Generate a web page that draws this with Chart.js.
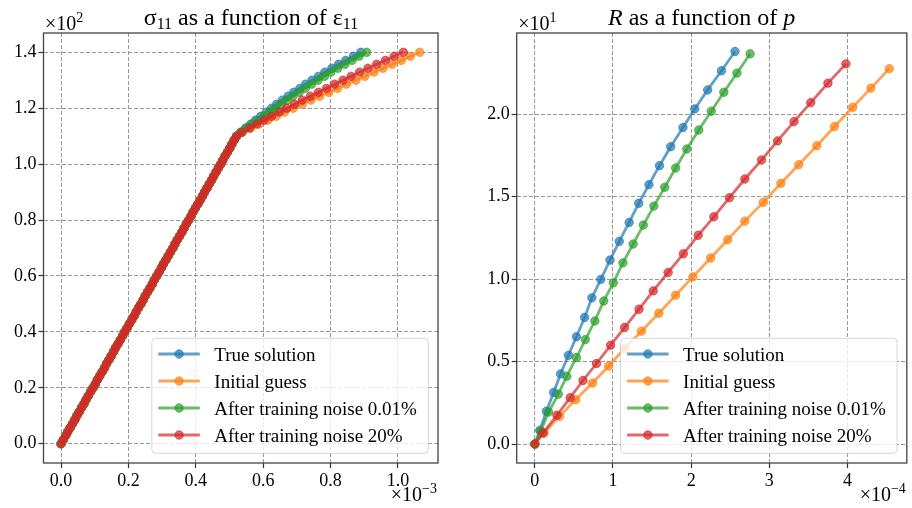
<!DOCTYPE html>
<html>
<head>
<meta charset="utf-8">
<script src="https://cdn.jsdelivr.net/npm/chart.js@4.4.0/dist/chart.umd.min.js"></script>
<style>
  html, body { margin: 0; padding: 0; background: #fff; }
  #wrap { position: relative; width: 912px; height: 508px; }
  canvas { position: absolute; top: 0; }
  #left { left: 0; }
  #right { left: 456px; }
</style>
</head>
<body>
<div id="wrap">
  <canvas id="left" width="456" height="508"></canvas>
  <canvas id="right" width="456" height="508"></canvas>
</div>
<script>
// series names (legend order = draw order)
const seriesNames = ["True solution", "Initial guess", "After training noise 0.01%", "After training noise 20%"];

// left plot: sigma_11 (x10^2) vs eps_11 (x10^-3), elastic branch shared by all series
const elasticStrain = [0, .007, .014, .020, .027, .034, .041, .047, .054, .061, .068, .074, .081, .088, .095, .102, .108, .115, .122, .129,
  .135, .142, .149, .156, .162, .169, .176, .183, .189, .196, .203, .210, .217, .223, .230, .237, .244, .250, .257, .264,
  .271, .277, .284, .291, .298, .304, .311, .318, .325, .332, .338, .345, .352, .359, .365, .372, .379, .386, .392, .399,
  .406, .413, .420, .426, .433, .440, .447, .453, .460, .467, .474, .480, .487, .494, .501, .507, .514, .521];
const elasticStress = [0, .014, .029, .043, .057, .071, .086, .100, .114, .129, .143, .157, .171, .186, .200, .214, .229, .243, .257, .271,
  .286, .300, .314, .329, .343, .357, .371, .386, .400, .414, .429, .443, .457, .471, .486, .500, .514, .529, .543, .557,
  .571, .586, .600, .614, .629, .643, .657, .671, .686, .700, .714, .729, .743, .757, .771, .786, .800, .814, .829, .843,
  .857, .871, .886, .900, .914, .929, .943, .957, .971, .986, 1.000, 1.014, 1.029, 1.043, 1.057, 1.071, 1.086, 1.100];
const plasticStress = [1.114, 1.129, 1.143, 1.157, 1.171, 1.186, 1.200, 1.214, 1.229, 1.243, 1.257, 1.271, 1.286, 1.300, 1.314,
  1.329, 1.343, 1.357, 1.371, 1.386, 1.400];
const trueStrainPl = [0.533, 0.548, 0.563, 0.577, 0.593, 0.609, 0.625, 0.640, 0.657, 0.674, 0.691, 0.709, 0.726, 0.745, 0.764,
  0.783, 0.804, 0.824, 0.845, 0.868, 0.890];
const initStrainPl = [0.538, 0.563, 0.588, 0.614, 0.639, 0.664, 0.689, 0.716, 0.742, 0.768, 0.795, 0.821, 0.847, 0.875, 0.902,
  0.929, 0.956, 0.983, 1.010, 1.037, 1.065];
const noise001StrainPl = [0.534, 0.550, 0.568, 0.584, 0.602, 0.619, 0.636, 0.653, 0.671, 0.688, 0.707, 0.725, 0.744, 0.763, 0.782,
  0.801, 0.822, 0.843, 0.864, 0.885, 0.907];
const noise20StrainPl = [0.537, 0.560, 0.581, 0.603, 0.625, 0.648, 0.670, 0.693, 0.716, 0.740, 0.764, 0.788, 0.812, 0.837, 0.861,
  0.886, 0.911, 0.937, 0.963, 0.989, 1.016];

// right plot: R (x10^1) vs p (x10^-4)
const pTrue = [0, 0.063, 0.148, 0.241, 0.329, 0.430, 0.532, 0.637, 0.730, 0.844, 0.962, 1.080, 1.207, 1.329, 1.460, 1.595, 1.738, 1.895, 2.046, 2.211, 2.388, 2.561];
const rTrue = [0, 0.083, 0.199, 0.313, 0.425, 0.538, 0.650, 0.767, 0.886, 0.998, 1.115, 1.228, 1.343, 1.459, 1.572, 1.687, 1.802, 1.918, 2.031, 2.146, 2.262, 2.379];
const pInit = [0, 0.118, 0.316, 0.523, 0.738, 0.945, 1.148, 1.363, 1.586, 1.801, 2.022, 2.249, 2.468, 2.687, 2.924, 3.148, 3.376, 3.608, 3.835, 4.067, 4.300, 4.535];
const rInit = [0, 0.067, 0.168, 0.269, 0.370, 0.473, 0.579, 0.684, 0.793, 0.902, 1.013, 1.127, 1.238, 1.351, 1.465, 1.580, 1.693, 1.808, 1.924, 2.041, 2.157, 2.275];
const pNoise001 = [0, 0.075, 0.177, 0.300, 0.409, 0.532, 0.646, 0.768, 0.882, 1.004, 1.127, 1.257, 1.388, 1.523, 1.662, 1.802, 1.945, 2.097, 2.257, 2.418, 2.586, 2.755];
const rNoise001 = [0, 0.078, 0.194, 0.302, 0.411, 0.524, 0.633, 0.746, 0.867, 0.977, 1.098, 1.212, 1.327, 1.442, 1.556, 1.673, 1.788, 1.903, 2.017, 2.132, 2.248, 2.365];
const pNoise20 = [0, 0.105, 0.283, 0.452, 0.616, 0.789, 0.970, 1.148, 1.333, 1.515, 1.705, 1.900, 2.090, 2.290, 2.490, 2.687, 2.900, 3.105, 3.316, 3.530, 3.750, 3.980];
const rNoise20 = [0, 0.067, 0.174, 0.281, 0.385, 0.488, 0.599, 0.706, 0.817, 0.928, 1.040, 1.153, 1.265, 1.377, 1.493, 1.606, 1.721, 1.837, 1.954, 2.069, 2.187, 2.304];

// tick labels
const leftXTicks = [0, 0.2, 0.4, 0.6, 0.8, 1.0];
const leftYTicks = [0, 0.2, 0.4, 0.6, 0.8, 1.0, 1.2, 1.4];
const rightXTicks = [0, 1, 2, 3, 4];
const rightYTicks = [0, 0.5, 1.0, 1.5, 2.0];

// styles
const colors = ["rgba(31,119,180,0.7)", "rgba(255,127,14,0.7)", "rgba(44,160,44,0.7)", "rgba(214,39,40,0.7)"];
const SERIF = "'Liberation Serif', 'DejaVu Serif', serif";
const MARKER_R = 4.2;

function toPoints(xs, ys) {
  return xs.map((x, i) => ({ x: x, y: ys[i] }));
}

function makeDataset(i, pts) {
  return {
    label: seriesNames[i],
    data: pts,
    order: seriesNames.length - i, // later series drawn on top (matplotlib style)
    borderColor: colors[i],
    backgroundColor: colors[i],
    borderWidth: 2.8,
    pointRadius: MARKER_R,
    pointBorderWidth: 1,
    pointHoverRadius: MARKER_R,
    tension: 0,
    fill: false
  };
}

// draw a sequence of text pieces (for sub/superscripts)
function drawRuns(ctx, runs, x, y, align) {
  let w = 0;
  runs.forEach(r => { ctx.font = r.font; w += ctx.measureText(r.text).width; });
  let cx = align === "center" ? x - w / 2 : (align === "right" ? x - w : x);
  ctx.textAlign = "left";
  ctx.textBaseline = "alphabetic";
  ctx.fillStyle = "#000";
  runs.forEach(r => {
    ctx.font = r.font;
    ctx.fillText(r.text, cx, y + (r.dy || 0));
    cx += ctx.measureText(r.text).width;
  });
}

// frame, title, offset texts and legend in matplotlib style
function makeDecor(cfg) {
  return {
    id: "decor",
    afterDraw(chart) {
      const ctx = chart.ctx;
      const a = chart.chartArea;
      ctx.save();
      // axes frame
      ctx.strokeStyle = "#444";
      ctx.lineWidth = 1.3;
      ctx.strokeRect(a.left, a.top, a.right - a.left, a.bottom - a.top);

      // legend
      const lw = 276.5, lh = 115;
      const lx = a.right - 9.7 - lw, ly = a.bottom - 9.7 - lh;
      ctx.beginPath();
      ctx.roundRect(lx, ly, lw, lh, 4);
      ctx.fillStyle = "rgba(255,255,255,0.8)";
      ctx.fill();
      ctx.strokeStyle = "rgba(204,204,204,0.8)";
      ctx.lineWidth = 1;
      ctx.stroke();
      chart.data.datasets.forEach((ds, i) => {
        const yy = ly + 15.7 + i * 27;
        ctx.strokeStyle = ds.borderColor;
        ctx.lineWidth = 2.8;
        ctx.beginPath();
        ctx.moveTo(lx + 6.5, yy);
        ctx.lineTo(lx + 48, yy);
        ctx.stroke();
        ctx.beginPath();
        ctx.arc(lx + 27.3, yy, MARKER_R, 0, Math.PI * 2);
        ctx.fillStyle = ds.backgroundColor;
        ctx.fill();
        ctx.lineWidth = 1;
        ctx.stroke();
        ctx.fillStyle = "#000";
        ctx.font = "19px " + SERIF;
        ctx.textAlign = "left";
        ctx.textBaseline = "alphabetic";
        ctx.fillText(ds.label, lx + 62.5, yy + 6.5);
      });

      // title and multipliers
      drawRuns(ctx, cfg.title, cfg.titleX, 25, "center");
      drawRuns(ctx, cfg.topMult, a.left + 1.5, 30, "left");
      drawRuns(ctx, cfg.bottomMult, a.right - 1, 501, "right");
      ctx.restore();
    }
  };
}

function axis(min, max, tickList, fmt, fitFn) {
  return {
    type: "linear",
    min: min,
    max: max,
    afterBuildTicks: s => { s.ticks = tickList.map(v => ({ value: v })); },
    afterFit: fitFn,
    ticks: {
      autoSkip: false,
      maxRotation: 0,
      padding: 2,
      color: "#000",
      font: { family: SERIF, size: 18 },
      callback: fmt
    },
    grid: {
      color: "#8c8c8c",
      lineWidth: 0.9,
      tickColor: "#333",
      tickLength: 5,
      tickWidth: 1.2
    },
    border: { display: false, dash: [4, 2] }
  };
}

function baseOptions(padRight, yWidth, xs, ys) {
  return {
    animation: false,
    responsive: false,
    devicePixelRatio: 1,
    events: [],
    layout: { padding: { top: 33, right: padRight, bottom: 0, left: 0 } },
    plugins: { legend: { display: false }, tooltip: { enabled: false }, title: { display: false } },
    scales: {
      x: axis(xs[0], xs[1], xs[2], xs[3], s => { s.height = 45; }),
      y: axis(ys[0], ys[1], ys[2], ys[3], s => { s.width = yWidth; })
    }
  };
}

const fmt1 = v => v.toFixed(1);
const fmt0 = v => v.toFixed(0);
const TITLE = "24px " + SERIF;
const SUB = "16px " + SERIF;
const MULT = "20px " + SERIF;
const SUP = "14px " + SERIF;

// left chart
new Chart(document.getElementById("left").getContext("2d"), {
  type: "line",
  data: {
    datasets: [
      makeDataset(0, toPoints(elasticStrain.concat(trueStrainPl), elasticStress.concat(plasticStress))),
      makeDataset(1, toPoints(elasticStrain.concat(initStrainPl), elasticStress.concat(plasticStress))),
      makeDataset(2, toPoints(elasticStrain.concat(noise001StrainPl), elasticStress.concat(plasticStress))),
      makeDataset(3, toPoints(elasticStrain.concat(noise20StrainPl), elasticStress.concat(plasticStress)))
    ]
  },
  options: baseOptions(18, 43.5, [-0.052, 1.119, leftXTicks, fmt1], [-0.069, 1.469, leftYTicks, fmt1]),
  plugins: [makeDecor({
    titleX: 251,
    title: [
      { text: "σ", font: TITLE },
      { text: "11", font: SUB, dy: 4 },
      { text: " as a function of ", font: TITLE },
      { text: "ε", font: TITLE },
      { text: "11", font: SUB, dy: 4 }
    ],
    topMult: [{ text: "×10", font: MULT }, { text: "2", font: SUP, dy: -8 }],
    bottomMult: [{ text: "×10", font: MULT }, { text: "−3", font: SUP, dy: -8 }]
  })]
});

// right chart
new Chart(document.getElementById("right").getContext("2d"), {
  type: "line",
  data: {
    datasets: [
      makeDataset(0, toPoints(pTrue, rTrue)),
      makeDataset(1, toPoints(pInit, rInit)),
      makeDataset(2, toPoints(pNoise001, rNoise001)),
      makeDataset(3, toPoints(pNoise20, rNoise20))
    ]
  },
  options: baseOptions(1, 60.7, [-0.232, 4.759, rightXTicks, fmt0], [-0.115, 2.491, rightYTicks, fmt1]),
  plugins: [makeDecor({
    titleX: 245.7,
    title: [
      { text: "R", font: "italic " + TITLE },
      { text: " as a function of ", font: TITLE },
      { text: "p", font: "italic " + TITLE }
    ],
    topMult: [{ text: "×10", font: MULT }, { text: "1", font: SUP, dy: -8 }],
    bottomMult: [{ text: "×10", font: MULT }, { text: "−4", font: SUP, dy: -8 }]
  })]
});
</script>
</body>
</html>
